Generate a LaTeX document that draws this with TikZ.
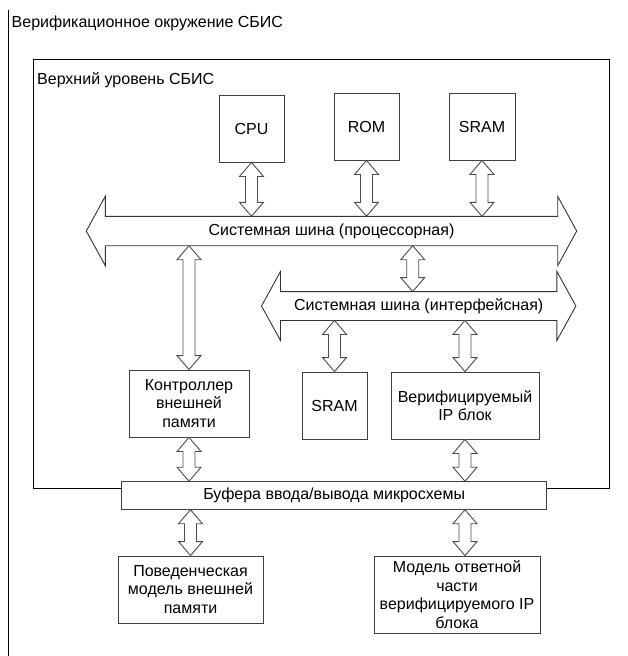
\documentclass[tikz,border=0pt]{standalone}
\usepackage{fontspec}
\setmainfont{Liberation Sans}
\usetikzlibrary{positioning, calc}

\newcommand{\vlink}[2]{%
  \draw[link] let \p1=(#1), \p2=(#2) in
    (\x1,\y1) -- ++(12pt,-14pt) -- ++(-6pt,0pt) -- (\x1+6pt,\y2+14pt) -- ++(6pt,0pt)
    -- (\x1,\y2) -- ++(-12pt,14pt) -- ++(6pt,0pt) -- (\x1-6pt,\y1-14pt) -- ++(-6pt,0pt) -- cycle;}
\newcommand{\busoutline}[1]{%
  \draw[busline] (#1.north west) -- (#1.north east) -- ([yshift=20pt]#1.north east)
    -- ([xshift=19pt]#1.east) -- ([yshift=-20pt]#1.south east) -- (#1.south east)
    -- (#1.south west) -- ([yshift=-20pt]#1.south west) -- ([xshift=-19pt]#1.west)
    -- ([yshift=20pt]#1.north west) -- cycle;}

\begin{document}
\begin{tikzpicture}[x=1pt, y=-1pt, node distance=115pt, on grid,
    every node/.style={font=\fontsize{16}{18.5}\selectfont, inner sep=0pt},
    block/.style={draw=black!75, line width=0.9pt, align=center, minimum height=67pt},
    bus/.style={minimum height=29pt},
    link/.style={draw=black!70, line width=0.9pt, fill=white},
    busline/.style={draw=black!80, line width=0.9pt}]
    \useasboundingbox (0,0) rectangle (628,656);

    \draw[line width=1pt] (8,10) -- (8,656);
    \node[anchor=base west] (envlbl) at (11.5,27) {Верификационное окружение СБИС};
    \node[draw, line width=1pt, minimum width=576pt, minimum height=429pt] (chip) at (321,273.5) {};
    \node[anchor=base west] (chiplbl) at (37,84) {Верхний уровень СБИС};

    \node[block, minimum width=65pt] (cpu) at (251.5,128.5) {CPU};
    \node[block, minimum width=65pt, yshift=2pt] (rom) [right=of cpu] {ROM};
    \node[block, minimum width=66pt] (sram) [right=115.5pt of rom] {SRAM};

    \node[bus, minimum width=452pt] (pbus) at (331.5,231) {Системная шина (процессорная)};
    \node[bus, minimum width=276pt, minimum height=28.5pt] (ibus) at (418.7,306) {Системная шина (интерфейсная)};
    \busoutline{pbus}
    \busoutline{ibus}

    \node[block, minimum width=120pt] (ctrl) at (189,403.5) {Контроллер\\внешней\\памяти};
    \node[block, minimum width=65pt] (sram2) at (334.5,405.5) {SRAM};
    \node[block, minimum width=148pt] (ip) at (465,405.5) {Верифицируемый\\IP блок};
    \node[block, minimum width=425pt, minimum height=27.6pt, fill=white] (buf) at (334.2,495.5) {Буфера ввода/вывода микросхемы};
    \node[block, minimum width=145pt] (behav) at (190.5,589.5) {Поведенческая\\модель внешней\\памяти};
    \node[block, minimum width=166pt, minimum height=77pt] (resp) at (457,594.5) {Модель ответной\\части\\верифицируемого IP\\блока};

    \vlink{cpu.south}{cpu.south |- pbus.north}
    \vlink{rom.south}{rom.south |- pbus.north}
    \vlink{sram.south}{sram.south |- pbus.north}
    \vlink{ctrl.north |- pbus.south}{ctrl.north}
    \vlink{[xshift=-6pt]ibus.north |- pbus.south}{ibus.north}
    \vlink{sram2.north |- ibus.south}{sram2.north}
    \vlink{ip.north |- ibus.south}{ip.north}
    \vlink{ctrl.south}{ctrl.south |- buf.north}
    \vlink{ip.south}{ip.south |- buf.north}
    \vlink{behav.north |- buf.south}{behav.north}
    \vlink{ip.south |- buf.south}{resp.north}
\end{tikzpicture}
\end{document}
